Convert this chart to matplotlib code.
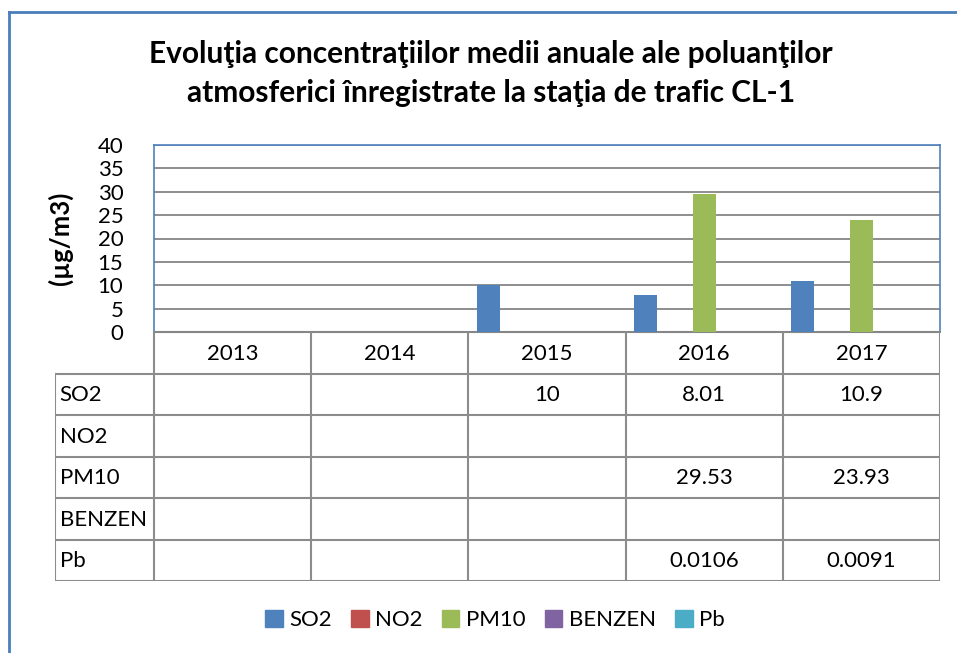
import numpy as np
import matplotlib
matplotlib.use("Agg")
import matplotlib.pyplot as plt
from matplotlib.patches import Patch
from matplotlib.lines import Line2D

plt.rcParams['font.family'] = ['Lato', 'DejaVu Sans']

years = ['2013', '2014', '2015', '2016', '2017']
series = ['SO2', 'NO2', 'PM10', 'BENZEN', 'Pb']
so2 = [None, None, 10, 8.01, 10.9]
no2 = [None, None, None, None, None]
pm10 = [None, None, None, 29.53, 23.93]
benzen = [None, None, None, None, None]
pb = [None, None, None, 0.0106, 0.0091]
colors = ['#4F81BD', '#C0504D', '#9BBB59', '#8064A2', '#4BACC6']
title_lines = ['Evoluţia concentraţiilor medii anuale ale poluanţilor',
               'atmosferici înregistrate la staţia de trafic CL-1']

W, H = 957, 653
fig = plt.figure(figsize=(W / 100, H / 100), dpi=100)


def px_axes(x0, y0, x1, y1):
    # axes rect from pixel box (top-left origin)
    return fig.add_axes([x0 / W, 1 - y1 / H, (x1 - x0) / W, (y1 - y0) / H])


# outer chart border (left + top visible)
border = '#4A7EBB'
fig.add_artist(Line2D([9 / W, 9 / W], [0, 1 - 12 / H], transform=fig.transFigure,
                      color=border, lw=2))
fig.add_artist(Line2D([9 / W, 1], [1 - 12 / H, 1 - 12 / H], transform=fig.transFigure,
                      color=border, lw=2))

for line, base in zip(title_lines, [63, 102]):
    fig.text(491 / W, 1 - base / H, line, ha='center', va='baseline',
             fontsize=21.5, fontweight='bold')

ax = px_axes(154, 145, 940, 332)
data = [so2, no2, pm10, benzen, pb]
x = np.arange(len(years))
slot, bw = 0.186, 0.147
for i, (vals, c) in enumerate(zip(data, colors)):
    v = np.array([np.nan if d is None else d for d in vals], dtype=float)
    ax.bar(x + (i - 2) * slot, np.nan_to_num(v), width=bw, color=c, zorder=3)

ax.set_xlim(-0.5, 4.5)
ax.set_ylim(0, 40)
ax.set_yticks(range(0, 41, 5))
ax.set_xticks([])
ax.yaxis.grid(True, color='#868686', lw=1.3, zorder=0)
ax.tick_params(axis='y', length=0, pad=22, labelsize=16)
for s in ['left', 'top', 'right']:
    ax.spines[s].set_color('#4F81BD')
    ax.spines[s].set_linewidth(1.2)
ax.spines['bottom'].set_color('#868686')
ax.spines['bottom'].set_linewidth(1.5)
ax.set_ylabel('(µg/m3)', fontsize=18.5, fontweight='bold')
ax.yaxis.set_label_coords((60 - 154) / 786, 0.5)
ax.yaxis.label.set_verticalalignment('center')

# data table below the plot
tab = px_axes(55, 332, 940, 581)
x_left = -0.5 - (154 - 55) / 157.2
tab.set_xlim(x_left, 4.5)
tab.set_ylim(6, 0)
tab.axis('off')
gc, glw = '#8C8C8C', 1.5
for k in range(6):
    tab.plot([k - 0.5, k - 0.5], [0, 6], color=gc, lw=glw)
tab.plot([x_left, x_left], [1, 6], color=gc, lw=glw)
for r in range(1, 7):
    tab.plot([x_left, 4.5], [r, r], color=gc, lw=glw)
for j, yr in enumerate(years):
    tab.text(j, 0.52, yr, ha='center', va='center', fontsize=16)
for r, (name, vals) in enumerate(zip(series, data), start=1):
    tab.text(x_left + 0.03, r + 0.52, name, ha='left', va='center', fontsize=16)
    for j, v in enumerate(vals):
        if v is not None:
            tab.text(j, r + 0.52, f'{v:g}', ha='center', va='center', fontsize=16)

handles = [Patch(color=c, label=s) for s, c in zip(series, colors)]
fig.legend(handles=handles, loc='center', bbox_to_anchor=(495 / W, 1 - 620 / H),
           ncol=5, frameon=False, fontsize=16, handlelength=0.8, handleheight=0.8,
           handletextpad=0.3, columnspacing=0.85)

fig.savefig('out.png', dpi=100)
